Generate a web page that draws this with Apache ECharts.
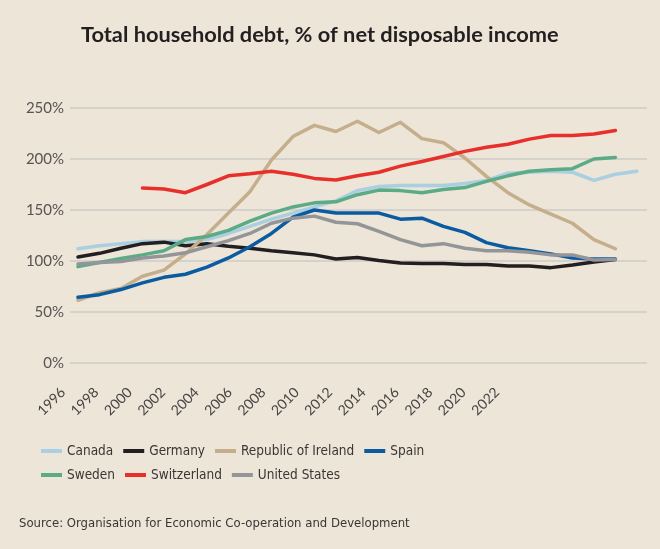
<!DOCTYPE html>
<html>
<head>
<meta charset="utf-8">
<script src="https://cdn.jsdelivr.net/npm/echarts@6/dist/echarts.min.js"></script>
<style>
  html, body { margin: 0; padding: 0; background: #ece5d8; }
  #debt-chart { width: 660px; height: 549px; }
</style>
</head>
<body>
<div id="debt-chart"></div>
<script>
const years = [1996, 1997, 1998, 1999, 2000, 2001, 2002, 2003, 2004, 2005, 2006, 2007, 2008,
  2009, 2010, 2011, 2012, 2013, 2014, 2015, 2016, 2017, 2018, 2019, 2020, 2021, 2022]
const tickLabels = ['1996', '1998', '2000', '2002', '2004', '2006', '2008', '2010',
  '2012', '2014', '2016', '2018', '2020', '2022']
const yTicks = [0, 50, 100, 150, 200, 250]

const canada = [112, 115, 117, 119, 119, 119, 121, 127, 134, 141, 147, 153, 159, 169, 173, 174,
  174, 174, 176, 179, 186, 187, 188, 187, 179, 185, 188]
const germany = [104, 107.5, 112.5, 117, 118.5, 115, 117, 114.5, 112.5, 110, 108, 106, 102, 103.5,
  100.5, 98, 97.5, 97.5, 96.5, 96.5, 95, 95, 93.5, 96, 99, 101.5, null]
const ireland = [61.5, 69, 73, 85, 91, 107, 126, 147, 168, 199, 222, 233, 227, 237, 226, 236,
  220, 216, 201, 183, 167, 155, 146, 137, 121, 112, null]
const spain = [64.5, 67, 72, 78.5, 84, 87, 94, 103, 114, 127, 143, 150, 147, 147, 147, 141,
  142, 134, 128, 118, 113, 110, 107, 103, 102, 102, null]
const sweden = [94.5, 98.5, 102.5, 106, 110, 121, 124, 130, 139, 147, 153, 157, 158, 165, 169.5,
  169, 167, 170, 172, 178, 183.5, 188, 189.5, 190.5, 200, 201.5, null]
const switzerland = [null, null, null, 171.5, 170.5, 167, 175, 183.5, 185.5, 188, 185, 181, 179.5,
  183.5, 187, 193, 197.5, 202.5, 207.5, 211.5, 214.5, 219.5, 223, 223, 224.5, 228, null]
const unitedStates = [97, 98.5, 99.5, 103, 105, 108, 114, 120, 127, 137, 142, 144, 138, 136.5,
  129, 121, 115, 117, 112.5, 110, 110, 108.5, 106, 106, 101, 101.5, null]

const countries = [
  { name: 'Canada', values: canada, color: '#a9cfe0' },
  { name: 'Germany', values: germany, color: '#231f20' },
  { name: 'Republic of Ireland', values: ireland, color: '#c5ae8b' },
  { name: 'Spain', values: spain, color: '#0b5ba1' },
  { name: 'Sweden', values: sweden, color: '#5aab86' },
  { name: 'Switzerland', values: switzerland, color: '#e8302a' },
  { name: 'United States', values: unitedStates, color: '#949598' }
]

const NARROW = '"DejaVu Sans Condensed", Roboto, sans-serif'

const chart = echarts.init(document.getElementById('debt-chart'))
chart.setOption({
  backgroundColor: '#ece5d8',
  animation: false,
  title: [{
    text: 'Total household debt, % of net disposable income',
    left: 76,
    top: 19,
    textStyle: {
      fontFamily: 'Lato',
      fontWeight: 'bold',
      fontSize: 21.8,
      color: '#231f20'
    }
  }, {
    text: 'Source: Organisation for Economic Co-operation and Development',
    left: 14,
    top: 512,
    textStyle: {
      fontFamily: NARROW,
      fontWeight: 'normal',
      fontSize: 13,
      color: '#3b3536'
    }
  }],
  legend: {
    left: 36,
    top: 439,
    width: 430,
    icon: 'rect',
    itemWidth: 21,
    itemHeight: 4,
    itemGap: 10,
    textStyle: {
      fontFamily: NARROW,
      fontSize: 13.5,
      color: '#3b3536',
      padding: [0, 4, 0, 0]
    },
    data: countries.map(c => c.name)
  },
  grid: [
    { left: 70, right: 13, top: 108, bottom: 186 },
    { left: 63, width: 434, top: 390, height: 10 }
  ],
  xAxis: [{
    type: 'value',
    gridIndex: 0,
    min: 1995.63,
    max: 2022.47,
    show: false
  }, {
    type: 'category',
    gridIndex: 1,
    position: 'top',
    boundaryGap: false,
    data: tickLabels,
    axisLine: { show: false },
    axisTick: { show: false },
    axisLabel: {
      rotate: 45,
      interval: 0,
      margin: 0,
      inside: true,
      fontFamily: 'Lato',
      fontSize: 14,
      color: '#4a4344'
    }
  }],
  yAxis: [{
    type: 'value',
    gridIndex: 0,
    min: yTicks[0],
    max: yTicks[yTicks.length - 1],
    interval: 50,
    axisLine: { show: false },
    axisTick: { show: false },
    splitLine: {
      lineStyle: { color: '#cecac7', width: 1.5 }
    },
    axisLabel: {
      formatter: '{value}%',
      margin: 6,
      fontFamily: 'Lato',
      fontSize: 15,
      color: '#5a5253'
    }
  }, {
    type: 'value',
    gridIndex: 1,
    min: 0,
    max: 1,
    show: false
  }],
  series: countries.map(c => ({
    name: c.name,
    type: 'line',
    xAxisIndex: 0,
    yAxisIndex: 0,
    showSymbol: false,
    color: c.color,
    lineStyle: { width: 3.5, color: c.color, join: 'round', cap: 'round' },
    data: years.map((y, i) => [y, c.values[i]])
  }))
})
</script>
</body>
</html>
